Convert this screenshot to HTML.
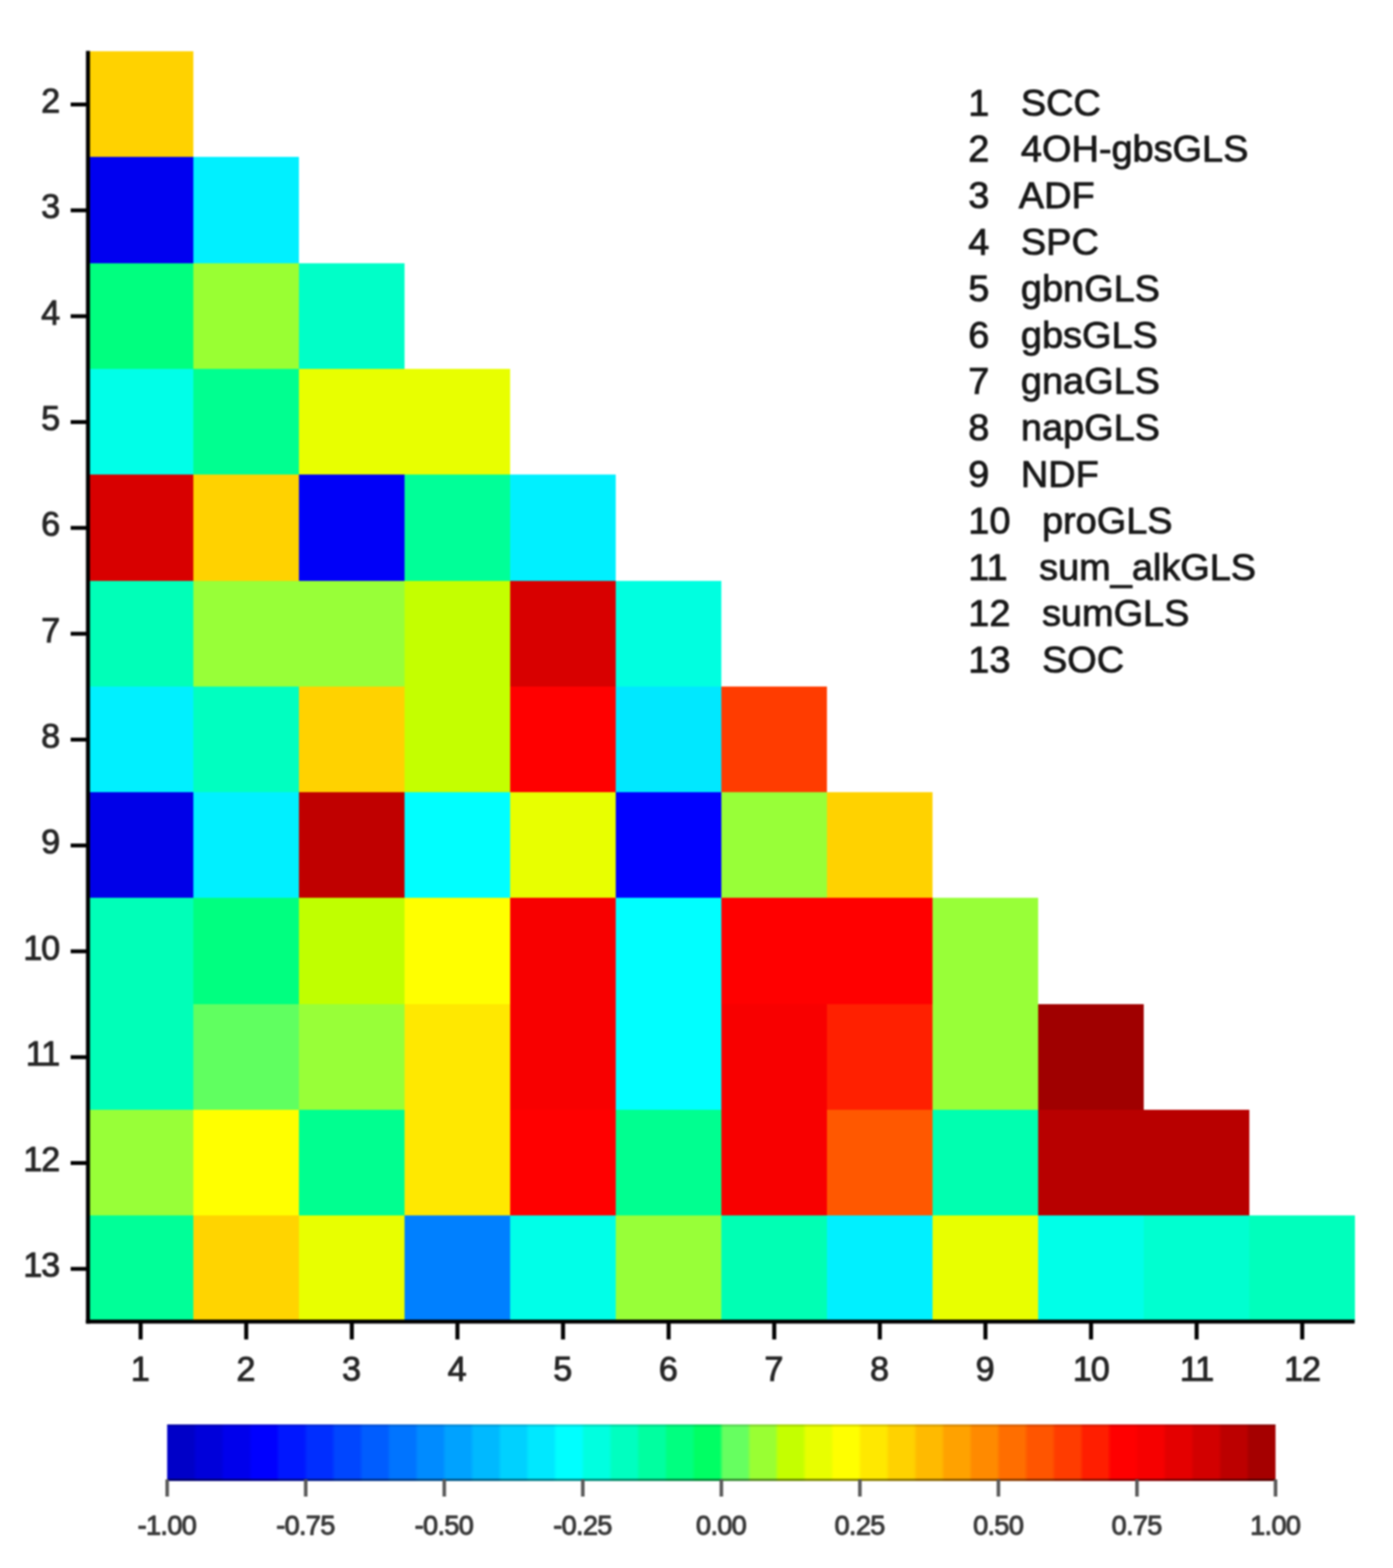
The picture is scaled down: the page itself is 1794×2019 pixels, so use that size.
<!DOCTYPE html>
<html lang="en"><head><meta charset="utf-8"><title>Correlation heatmap</title>
<style>
html,body{margin:0;padding:0;background:#fff;}
body{width:1794px;height:2019px;overflow:hidden;}
svg{display:block;filter:blur(1.1px);}
text{font-family:"Liberation Sans",sans-serif;}
.ax{font-size:44px;fill:#262626;stroke:#262626;stroke-width:1.2px;stroke-linejoin:round;}
.lg{font-size:48.8px;fill:#181818;stroke:#181818;stroke-width:1.1px;stroke-linejoin:round;white-space:pre;}
.cb{font-size:35px;fill:#3a3a3a;stroke:#3a3a3a;stroke-width:1.3px;stroke-linejoin:round;letter-spacing:-0.9px;}
</style></head><body>
<svg width="1794" height="2019" viewBox="0 0 1794 2019">
<rect width="1794" height="2019" fill="#fff"/>
<g id="heatmap" shape-rendering="crispEdges">
<rect x="112.6" y="66" width="136.5" height="136.8" fill="#FFD200"/>
<rect x="112.6" y="202.3" width="136.5" height="136.8" fill="#0000F0"/>
<rect x="248.6" y="202.3" width="136.5" height="136.8" fill="#00F0FF"/>
<rect x="112.6" y="338.6" width="136.5" height="136.8" fill="#00FF7F"/>
<rect x="248.6" y="338.6" width="136.5" height="136.8" fill="#99FF33"/>
<rect x="384.6" y="338.6" width="136.5" height="136.8" fill="#00FFC8"/>
<rect x="112.6" y="474.9" width="136.5" height="136.8" fill="#00FFE8"/>
<rect x="248.6" y="474.9" width="136.5" height="136.8" fill="#00FF90"/>
<rect x="384.6" y="474.9" width="136.5" height="136.8" fill="#E8FF00"/>
<rect x="520.6" y="474.9" width="136.5" height="136.8" fill="#E8FF00"/>
<rect x="112.6" y="611.2" width="136.5" height="136.8" fill="#D80000"/>
<rect x="248.6" y="611.2" width="136.5" height="136.8" fill="#FFD200"/>
<rect x="384.6" y="611.2" width="136.5" height="136.8" fill="#0000F8"/>
<rect x="520.6" y="611.2" width="136.5" height="136.8" fill="#00FF98"/>
<rect x="656.6" y="611.2" width="136.5" height="136.8" fill="#00F0FF"/>
<rect x="112.6" y="747.5" width="136.5" height="136.8" fill="#00FFB8"/>
<rect x="248.6" y="747.5" width="136.5" height="136.8" fill="#98FF38"/>
<rect x="384.6" y="747.5" width="136.5" height="136.8" fill="#98FF38"/>
<rect x="520.6" y="747.5" width="136.5" height="136.8" fill="#C4FF00"/>
<rect x="656.6" y="747.5" width="136.5" height="136.8" fill="#D80000"/>
<rect x="792.6" y="747.5" width="136.5" height="136.8" fill="#00FFE0"/>
<rect x="112.6" y="883.8" width="136.5" height="136.8" fill="#00F0FF"/>
<rect x="248.6" y="883.8" width="136.5" height="136.8" fill="#00FFC0"/>
<rect x="384.6" y="883.8" width="136.5" height="136.8" fill="#FFD200"/>
<rect x="520.6" y="883.8" width="136.5" height="136.8" fill="#C4FF00"/>
<rect x="656.6" y="883.8" width="136.5" height="136.8" fill="#FF0000"/>
<rect x="792.6" y="883.8" width="136.5" height="136.8" fill="#00E8FF"/>
<rect x="928.6" y="883.8" width="136.5" height="136.8" fill="#FF3C00"/>
<rect x="112.6" y="1020.1" width="136.5" height="136.8" fill="#0000E8"/>
<rect x="248.6" y="1020.1" width="136.5" height="136.8" fill="#00F0FF"/>
<rect x="384.6" y="1020.1" width="136.5" height="136.8" fill="#C00000"/>
<rect x="520.6" y="1020.1" width="136.5" height="136.8" fill="#00FFFF"/>
<rect x="656.6" y="1020.1" width="136.5" height="136.8" fill="#E8FF00"/>
<rect x="792.6" y="1020.1" width="136.5" height="136.8" fill="#0000FF"/>
<rect x="928.6" y="1020.1" width="136.5" height="136.8" fill="#98FF38"/>
<rect x="1064.6" y="1020.1" width="136.5" height="136.8" fill="#FFD200"/>
<rect x="112.6" y="1156.4" width="136.5" height="136.8" fill="#00FFB8"/>
<rect x="248.6" y="1156.4" width="136.5" height="136.8" fill="#00FF80"/>
<rect x="384.6" y="1156.4" width="136.5" height="136.8" fill="#C0FF00"/>
<rect x="520.6" y="1156.4" width="136.5" height="136.8" fill="#FFFF00"/>
<rect x="656.6" y="1156.4" width="136.5" height="136.8" fill="#F80000"/>
<rect x="792.6" y="1156.4" width="136.5" height="136.8" fill="#00FFFF"/>
<rect x="928.6" y="1156.4" width="136.5" height="136.8" fill="#FF0000"/>
<rect x="1064.6" y="1156.4" width="136.5" height="136.8" fill="#FF0000"/>
<rect x="1200.6" y="1156.4" width="136.5" height="136.8" fill="#98FF38"/>
<rect x="112.6" y="1292.7" width="136.5" height="136.8" fill="#00FFB8"/>
<rect x="248.6" y="1292.7" width="136.5" height="136.8" fill="#60FF60"/>
<rect x="384.6" y="1292.7" width="136.5" height="136.8" fill="#98FF38"/>
<rect x="520.6" y="1292.7" width="136.5" height="136.8" fill="#FFE800"/>
<rect x="656.6" y="1292.7" width="136.5" height="136.8" fill="#F80000"/>
<rect x="792.6" y="1292.7" width="136.5" height="136.8" fill="#00FFFF"/>
<rect x="928.6" y="1292.7" width="136.5" height="136.8" fill="#F80000"/>
<rect x="1064.6" y="1292.7" width="136.5" height="136.8" fill="#FF2000"/>
<rect x="1200.6" y="1292.7" width="136.5" height="136.8" fill="#98FF38"/>
<rect x="1336.6" y="1292.7" width="136.5" height="136.8" fill="#A00000"/>
<rect x="112.6" y="1429" width="136.5" height="136.8" fill="#98FF38"/>
<rect x="248.6" y="1429" width="136.5" height="136.8" fill="#FFFF00"/>
<rect x="384.6" y="1429" width="136.5" height="136.8" fill="#00FF90"/>
<rect x="520.6" y="1429" width="136.5" height="136.8" fill="#FFE800"/>
<rect x="656.6" y="1429" width="136.5" height="136.8" fill="#FF0000"/>
<rect x="792.6" y="1429" width="136.5" height="136.8" fill="#00FF90"/>
<rect x="928.6" y="1429" width="136.5" height="136.8" fill="#F80000"/>
<rect x="1064.6" y="1429" width="136.5" height="136.8" fill="#FF5800"/>
<rect x="1200.6" y="1429" width="136.5" height="136.8" fill="#00FFB0"/>
<rect x="1336.6" y="1429" width="136.5" height="136.8" fill="#B80000"/>
<rect x="1472.6" y="1429" width="136.5" height="136.8" fill="#B80000"/>
<rect x="112.6" y="1565.3" width="136.5" height="136.8" fill="#00FF98"/>
<rect x="248.6" y="1565.3" width="136.5" height="136.8" fill="#FFD400"/>
<rect x="384.6" y="1565.3" width="136.5" height="136.8" fill="#E8FF00"/>
<rect x="520.6" y="1565.3" width="136.5" height="136.8" fill="#0080FF"/>
<rect x="656.6" y="1565.3" width="136.5" height="136.8" fill="#00FFE8"/>
<rect x="792.6" y="1565.3" width="136.5" height="136.8" fill="#98FF38"/>
<rect x="928.6" y="1565.3" width="136.5" height="136.8" fill="#00FFB4"/>
<rect x="1064.6" y="1565.3" width="136.5" height="136.8" fill="#00F0FF"/>
<rect x="1200.6" y="1565.3" width="136.5" height="136.8" fill="#E8FF00"/>
<rect x="1336.6" y="1565.3" width="136.5" height="136.8" fill="#00FFE8"/>
<rect x="1472.6" y="1565.3" width="136.5" height="136.8" fill="#00FFD0"/>
<rect x="1608.6" y="1565.3" width="136.5" height="136.8" fill="#00FFBC"/>
</g>
<g id="axes" fill="#000">
<rect x="110.7" y="65.5" width="5.2" height="1638.8"/>
<rect x="110.7" y="1699.1" width="1633.9" height="5.2"/>
<rect x="91" y="132.05" width="20" height="5"/>
<rect x="91" y="268.35" width="20" height="5"/>
<rect x="91" y="404.65" width="20" height="5"/>
<rect x="91" y="540.95" width="20" height="5"/>
<rect x="91" y="677.25" width="20" height="5"/>
<rect x="91" y="813.55" width="20" height="5"/>
<rect x="91" y="949.85" width="20" height="5"/>
<rect x="91" y="1086.15" width="20" height="5"/>
<rect x="91" y="1222.45" width="20" height="5"/>
<rect x="91" y="1358.75" width="20" height="5"/>
<rect x="91" y="1495.05" width="20" height="5"/>
<rect x="91" y="1631.35" width="20" height="5"/>
<rect x="178.5" y="1703.2" width="5.2" height="21.5"/>
<rect x="314.5" y="1703.2" width="5.2" height="21.5"/>
<rect x="450.5" y="1703.2" width="5.2" height="21.5"/>
<rect x="586.5" y="1703.2" width="5.2" height="21.5"/>
<rect x="722.5" y="1703.2" width="5.2" height="21.5"/>
<rect x="858.5" y="1703.2" width="5.2" height="21.5"/>
<rect x="994.5" y="1703.2" width="5.2" height="21.5"/>
<rect x="1130.5" y="1703.2" width="5.2" height="21.5"/>
<rect x="1266.5" y="1703.2" width="5.2" height="21.5"/>
<rect x="1402.5" y="1703.2" width="5.2" height="21.5"/>
<rect x="1538.5" y="1703.2" width="5.2" height="21.5"/>
<rect x="1674.5" y="1703.2" width="5.2" height="21.5"/>
</g>
<g id="ylabels" class="ax" text-anchor="end">
<text x="77.5" y="145.15">2</text>
<text x="77.5" y="281.45">3</text>
<text x="77.5" y="417.75">4</text>
<text x="77.5" y="554.05">5</text>
<text x="77.5" y="690.35">6</text>
<text x="77.5" y="826.65">7</text>
<text x="77.5" y="962.95">8</text>
<text x="77.5" y="1099.25">9</text>
<text x="76" y="1235.55" letter-spacing="-1.5">10</text>
<text x="76" y="1371.85" letter-spacing="-1.5">11</text>
<text x="76" y="1508.15" letter-spacing="-1.5">12</text>
<text x="76" y="1644.45" letter-spacing="-1.5">13</text>
</g>
<g id="xlabels" class="ax" text-anchor="middle">
<text x="180.8" y="1778.2">1</text>
<text x="316.8" y="1778.2">2</text>
<text x="452.8" y="1778.2">3</text>
<text x="588.8" y="1778.2">4</text>
<text x="724.8" y="1778.2">5</text>
<text x="860.8" y="1778.2">6</text>
<text x="996.8" y="1778.2">7</text>
<text x="1132.8" y="1778.2">8</text>
<text x="1268.8" y="1778.2">9</text>
<text x="1404.8" y="1778.2" letter-spacing="-1.5">10</text>
<text x="1540.8" y="1778.2" letter-spacing="-1.5">11</text>
<text x="1676.8" y="1778.2" letter-spacing="-1.5">12</text>
</g>
<g id="legend" class="lg">
<text x="1247" y="148.5" xml:space="preserve">1   SCC</text>
<text x="1247" y="208.3" xml:space="preserve">2   4OH-gbsGLS</text>
<text x="1247" y="268.1" xml:space="preserve">3   ADF</text>
<text x="1247" y="327.9" xml:space="preserve">4   SPC</text>
<text x="1247" y="387.7" xml:space="preserve">5   gbnGLS</text>
<text x="1247" y="447.5" xml:space="preserve">6   gbsGLS</text>
<text x="1247" y="507.3" xml:space="preserve">7   gnaGLS</text>
<text x="1247" y="567.1" xml:space="preserve">8   napGLS</text>
<text x="1247" y="626.9" xml:space="preserve">9   NDF</text>
<text x="1247" y="686.7" xml:space="preserve">10   proGLS</text>
<text x="1247" y="746.5" xml:space="preserve">11   sum_alkGLS</text>
<text x="1247" y="806.3" xml:space="preserve">12   sumGLS</text>
<text x="1247" y="866.1" xml:space="preserve">13   SOC</text>
</g>
<defs><linearGradient id="cbgrad" x1="0" y1="0" x2="1" y2="0">
<stop offset="0.00000" stop-color="#0000C8"/><stop offset="0.02325" stop-color="#0000C8"/>
<stop offset="0.02675" stop-color="#0000DA"/><stop offset="0.04825" stop-color="#0000DA"/>
<stop offset="0.05175" stop-color="#0000EC"/><stop offset="0.07325" stop-color="#0000EC"/>
<stop offset="0.07675" stop-color="#0000FF"/><stop offset="0.09825" stop-color="#0000FF"/>
<stop offset="0.10175" stop-color="#0017FF"/><stop offset="0.12325" stop-color="#0017FF"/>
<stop offset="0.12675" stop-color="#002EFF"/><stop offset="0.14825" stop-color="#002EFF"/>
<stop offset="0.15175" stop-color="#0046FF"/><stop offset="0.17325" stop-color="#0046FF"/>
<stop offset="0.17675" stop-color="#005DFF"/><stop offset="0.19825" stop-color="#005DFF"/>
<stop offset="0.20175" stop-color="#0074FF"/><stop offset="0.22325" stop-color="#0074FF"/>
<stop offset="0.22675" stop-color="#008BFF"/><stop offset="0.24825" stop-color="#008BFF"/>
<stop offset="0.25175" stop-color="#00A2FF"/><stop offset="0.27325" stop-color="#00A2FF"/>
<stop offset="0.27675" stop-color="#00B9FF"/><stop offset="0.29825" stop-color="#00B9FF"/>
<stop offset="0.30175" stop-color="#00D1FF"/><stop offset="0.32325" stop-color="#00D1FF"/>
<stop offset="0.32675" stop-color="#00E8FF"/><stop offset="0.34825" stop-color="#00E8FF"/>
<stop offset="0.35175" stop-color="#00FFFF"/><stop offset="0.37325" stop-color="#00FFFF"/>
<stop offset="0.37675" stop-color="#00FFE0"/><stop offset="0.39825" stop-color="#00FFE0"/>
<stop offset="0.40175" stop-color="#00FFC0"/><stop offset="0.42325" stop-color="#00FFC0"/>
<stop offset="0.42675" stop-color="#00FFA0"/><stop offset="0.44825" stop-color="#00FFA0"/>
<stop offset="0.45175" stop-color="#00FF80"/><stop offset="0.47325" stop-color="#00FF80"/>
<stop offset="0.47675" stop-color="#00FF64"/><stop offset="0.49825" stop-color="#00FF64"/>
<stop offset="0.50175" stop-color="#66FF60"/><stop offset="0.52325" stop-color="#66FF60"/>
<stop offset="0.52675" stop-color="#99FF33"/><stop offset="0.54825" stop-color="#99FF33"/>
<stop offset="0.55175" stop-color="#C4FF00"/><stop offset="0.57325" stop-color="#C4FF00"/>
<stop offset="0.57675" stop-color="#E8FF00"/><stop offset="0.59825" stop-color="#E8FF00"/>
<stop offset="0.60175" stop-color="#FFFF00"/><stop offset="0.62325" stop-color="#FFFF00"/>
<stop offset="0.62675" stop-color="#FFE800"/><stop offset="0.64825" stop-color="#FFE800"/>
<stop offset="0.65175" stop-color="#FFD200"/><stop offset="0.67325" stop-color="#FFD200"/>
<stop offset="0.67675" stop-color="#FFBA00"/><stop offset="0.69825" stop-color="#FFBA00"/>
<stop offset="0.70175" stop-color="#FFA200"/><stop offset="0.72325" stop-color="#FFA200"/>
<stop offset="0.72675" stop-color="#FF8A00"/><stop offset="0.74825" stop-color="#FF8A00"/>
<stop offset="0.75175" stop-color="#FF6E00"/><stop offset="0.77325" stop-color="#FF6E00"/>
<stop offset="0.77675" stop-color="#FF5500"/><stop offset="0.79825" stop-color="#FF5500"/>
<stop offset="0.80175" stop-color="#FF3C00"/><stop offset="0.82325" stop-color="#FF3C00"/>
<stop offset="0.82675" stop-color="#FF1E00"/><stop offset="0.84825" stop-color="#FF1E00"/>
<stop offset="0.85175" stop-color="#FF0000"/><stop offset="0.87325" stop-color="#FF0000"/>
<stop offset="0.87675" stop-color="#F60000"/><stop offset="0.89825" stop-color="#F60000"/>
<stop offset="0.90175" stop-color="#E40000"/><stop offset="0.92325" stop-color="#E40000"/>
<stop offset="0.92675" stop-color="#D20000"/><stop offset="0.94825" stop-color="#D20000"/>
<stop offset="0.95175" stop-color="#BC0000"/><stop offset="0.97325" stop-color="#BC0000"/>
<stop offset="0.97675" stop-color="#A50000"/><stop offset="1.00000" stop-color="#A50000"/>
</linearGradient></defs>
<g id="colorbar">
<rect x="215.3" y="1834.2" width="1427.4" height="72.8" fill="url(#cbgrad)"/>
</g>
<g id="cbaxis" fill="#5a5a5a">
<rect x="215.3" y="1834.2" width="1427.4" height="2.4" fill="#000" fill-opacity="0.18"/>
<rect x="215.3" y="1904" width="1427.4" height="3" fill="#000" fill-opacity="0.45"/>
<rect x="213" y="1905" width="4.6" height="22"/>
<rect x="391.43" y="1905" width="4.6" height="22"/>
<rect x="569.85" y="1905" width="4.6" height="22"/>
<rect x="748.28" y="1905" width="4.6" height="22"/>
<rect x="926.7" y="1905" width="4.6" height="22"/>
<rect x="1105.12" y="1905" width="4.6" height="22"/>
<rect x="1283.55" y="1905" width="4.6" height="22"/>
<rect x="1461.98" y="1905" width="4.6" height="22"/>
<rect x="1640.4" y="1905" width="4.6" height="22"/>
</g>
<g id="cblabels" class="cb" text-anchor="middle">
<text x="214.9" y="1975.6">-1.00</text>
<text x="393.33" y="1975.6">-0.75</text>
<text x="571.75" y="1975.6">-0.50</text>
<text x="750.18" y="1975.6">-0.25</text>
<text x="928.6" y="1975.6">0.00</text>
<text x="1107.02" y="1975.6">0.25</text>
<text x="1285.45" y="1975.6">0.50</text>
<text x="1463.88" y="1975.6">0.75</text>
<text x="1642.3" y="1975.6">1.00</text>
</g>
</svg>
</body></html>
